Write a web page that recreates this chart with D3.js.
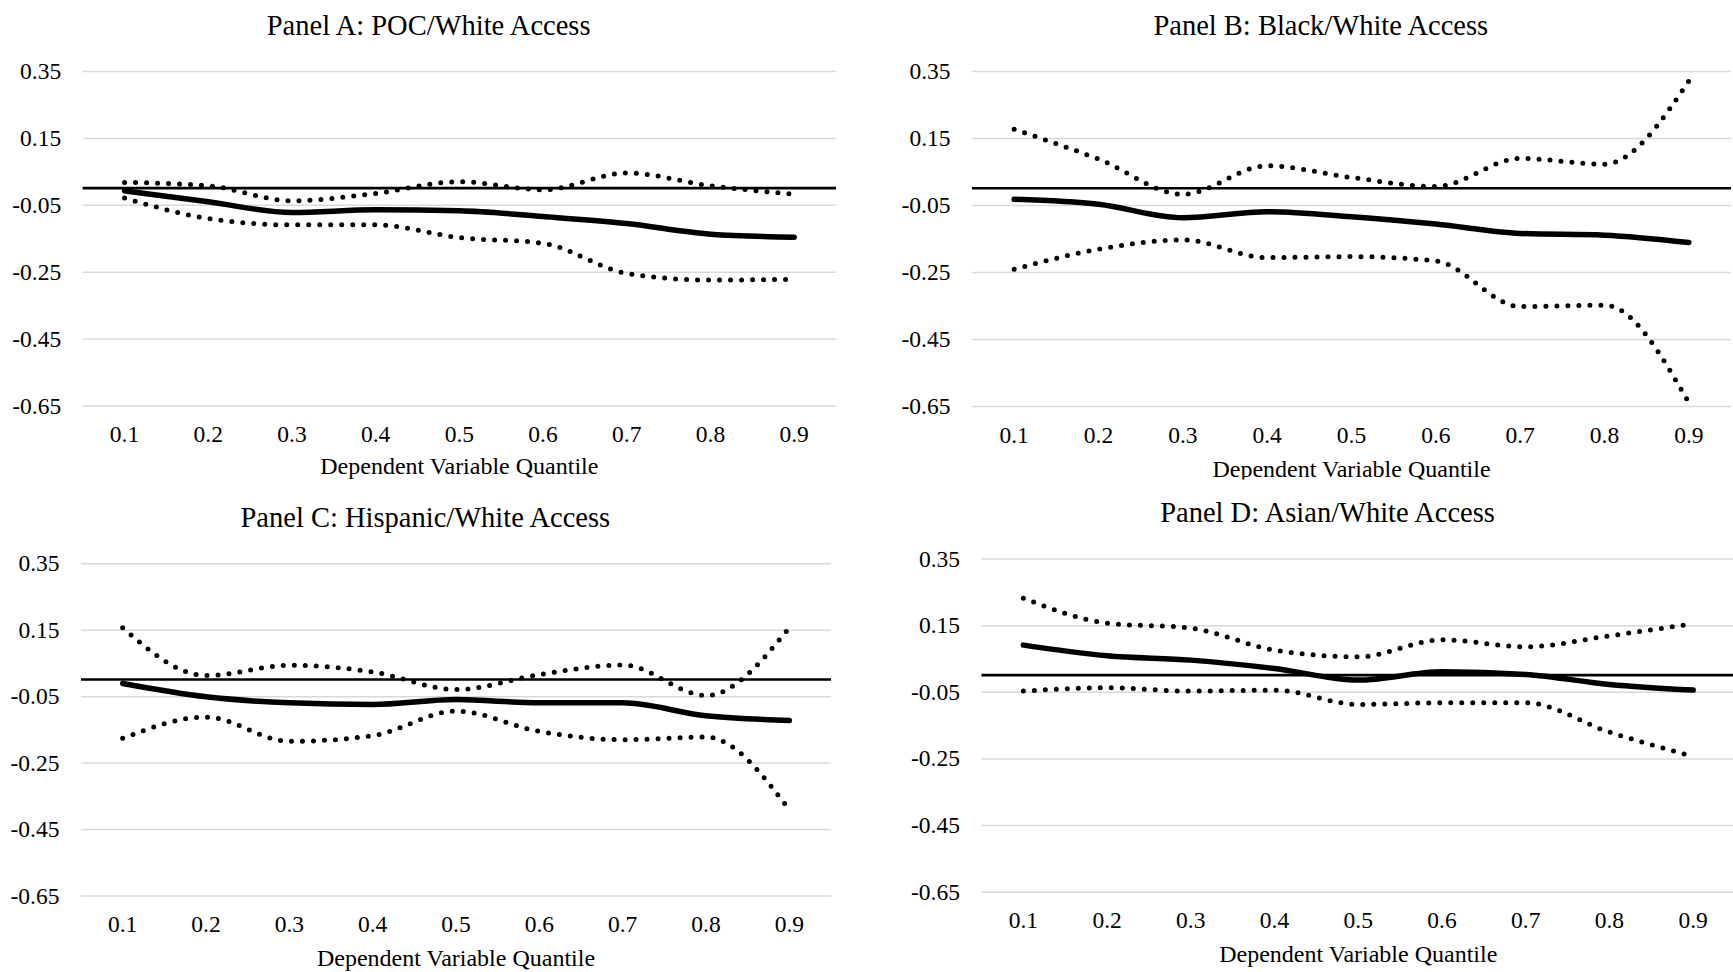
<!DOCTYPE html>
<html>
<head>
<meta charset="utf-8">
<script src="https://cdn.jsdelivr.net/npm/d3@7"></script>
<style>
  html, body { margin: 0; padding: 0; background: #fff; }
  svg { display: block; }
  text { font-family: "Liberation Serif", "Times New Roman", serif; fill: #000; }
</style>
</head>
<body>
<svg id="chart" width="1733" height="972"></svg>
<script>
// ---------- data ----------
const quantiles = ["0.1", "0.2", "0.3", "0.4", "0.5", "0.6", "0.7", "0.8", "0.9"];
const yTicks = [0.35, 0.15, -0.05, -0.25, -0.45, -0.65];
const xAxisTitle = "Dependent Variable Quantile";

const titleA = "Panel A: POC/White Access";
const estA = [-0.008, -0.041, -0.073, -0.065, -0.068, -0.085, -0.106, -0.138, -0.147];
const upA  = [0.017, 0.007, -0.038, -0.016, 0.019, -0.005, 0.045, 0.007, -0.018];
const loA  = [-0.030, -0.091, -0.110, -0.110, -0.148, -0.165, -0.255, -0.275, -0.273];

const titleB = "Panel B: Black/White Access";
const estB = [-0.033, -0.048, -0.088, -0.070, -0.085, -0.107, -0.135, -0.140, -0.162];
const upB  = [0.176, 0.087, -0.018, 0.067, 0.032, 0.005, 0.089, 0.072, 0.320];
const loB  = [-0.242, -0.182, -0.154, -0.207, -0.204, -0.217, -0.353, -0.349, -0.640];

const titleC = "Panel C: Hispanic/White Access";
const estC = [-0.012, -0.052, -0.070, -0.075, -0.060, -0.070, -0.070, -0.109, -0.123];
const upC  = [0.156, 0.012, 0.043, 0.023, -0.030, 0.015, 0.044, -0.048, 0.156];
const loC  = [-0.177, -0.113, -0.186, -0.169, -0.095, -0.156, -0.181, -0.173, -0.392];

const titleD = "Panel D: Asian/White Access";
const estD = [0.090, 0.058, 0.045, 0.020, -0.015, 0.010, 0.002, -0.028, -0.045];
const upD  = [0.231, 0.156, 0.141, 0.075, 0.055, 0.106, 0.085, 0.118, 0.154];
const loD  = [-0.048, -0.038, -0.048, -0.045, -0.088, -0.083, -0.083, -0.171, -0.244];

// ---------- layout ----------
const panels = [
  { title: titleA, est: estA, up: upA, lo: loA, left: 82.7, right: 836,  top: 71,    bottom: 405.5, xTitleY: 474, clip: null },
  { title: titleB, est: estB, up: upB, lo: loB, left: 972,  right: 1731, top: 71,    bottom: 406,   xTitleY: 477, clip: 479.5 },
  { title: titleC, est: estC, up: upC, lo: loC, left: 81,   right: 831,  top: 563.3, bottom: 895.5, xTitleY: 966, clip: null },
  { title: titleD, est: estD, up: upD, lo: loD, left: 981.5,right: 1735, top: 558.5, bottom: 891.7, xTitleY: 962, clip: null }
];

const svg = d3.select("#chart");
svg.append("rect").attr("width", 1733).attr("height", 972).attr("fill", "#fff");

panels.forEach((p, i) => {
  const g = svg.append("g");
  if (p.clip !== null) {
    const id = "clip" + i;
    svg.append("defs").append("clipPath").attr("id", id)
      .append("rect").attr("x", 0).attr("y", 0).attr("width", 1733).attr("height", p.clip);
    g.attr("clip-path", `url(#${id})`);
  }

  const x = d3.scaleBand().domain(quantiles).range([p.left, p.right]).padding(0);
  const y = d3.scaleLinear().domain([-0.65, 0.35]).range([p.bottom, p.top]);
  const cx = d => x(d) + x.bandwidth() / 2;
  const w = p.right - p.left;

  // y axis with gridlines
  const yAx = g.append("g")
    .attr("transform", `translate(${p.left},0)`)
    .call(d3.axisLeft(y).tickValues(yTicks).tickSize(-w).tickPadding(21.5)
      .tickFormat(d => d.toFixed(2)));
  yAx.select(".domain").remove();
  yAx.selectAll(".tick line").attr("stroke", "#d9d9d9").attr("stroke-width", 1.5);
  yAx.selectAll(".tick text")
    .attr("font-family", '"Liberation Serif", "Times New Roman", serif')
    .attr("font-size", 23.5).attr("fill", "#000");

  // x axis labels
  const xAx = g.append("g")
    .attr("transform", `translate(0,${p.bottom})`)
    .call(d3.axisBottom(x).tickSize(0).tickPadding(20));
  xAx.select(".domain").remove();
  xAx.selectAll(".tick text")
    .attr("font-family", '"Liberation Serif", "Times New Roman", serif')
    .attr("font-size", 23.5).attr("fill", "#000");

  // zero line
  g.append("line")
    .attr("x1", p.left).attr("x2", p.right)
    .attr("y1", y(0)).attr("y2", y(0))
    .attr("stroke", "#000").attr("stroke-width", 2.6);

  const line = d3.line()
    .x((d, j) => cx(quantiles[j]))
    .y(d => y(d))
    .curve(d3.curveMonotoneX);

  // confidence bounds (dotted)
  [p.up, p.lo].forEach(arr => {
    g.append("path").datum(arr)
      .attr("d", line)
      .attr("fill", "none").attr("stroke", "#000")
      .attr("stroke-width", 5)
      .attr("stroke-linecap", "round")
      .attr("stroke-dasharray", "0 11");
  });

  // estimate (solid)
  g.append("path").datum(p.est)
    .attr("d", line)
    .attr("fill", "none").attr("stroke", "#000")
    .attr("stroke-width", 5.5)
    .attr("stroke-linecap", "round")
    .attr("stroke-linejoin", "round");

  // titles
  const mid = (p.left + p.right) / 2;
  g.append("text")
    .attr("x", mid - 30.7).attr("y", p.top - 36.5)
    .attr("text-anchor", "middle").attr("font-size", 28.5)
    .text(p.title);
  g.append("text")
    .attr("x", mid).attr("y", p.xTitleY)
    .attr("text-anchor", "middle").attr("font-size", 24)
    .text(xAxisTitle);
});
</script>
</body>
</html>
